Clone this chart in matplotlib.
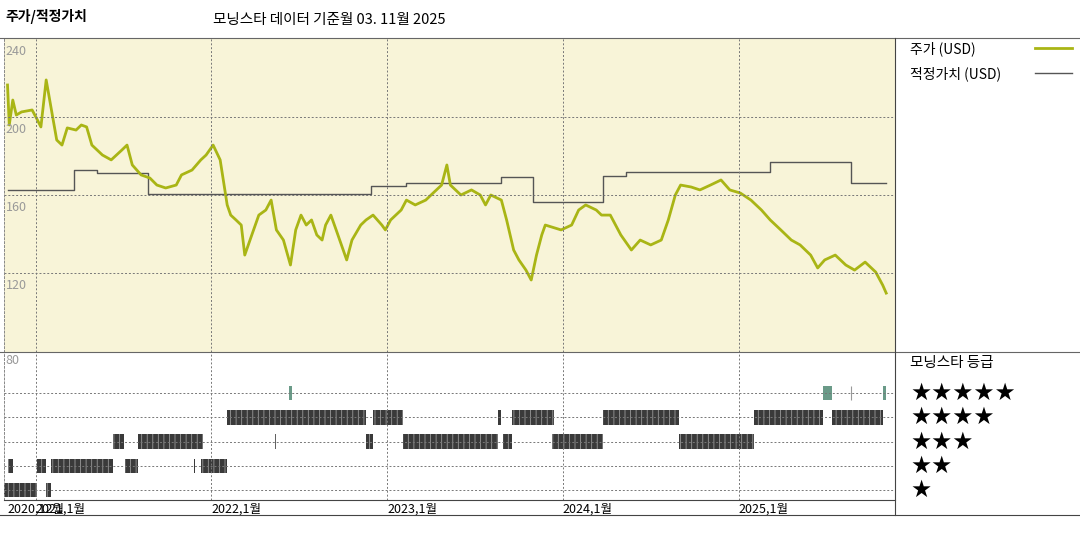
import matplotlib
matplotlib.use("Agg")
import matplotlib.pyplot as plt

plt.rcParams['font.family'] = ['Noto Sans CJK KR', 'DejaVu Sans']
plt.rcParams['hatch.linewidth'] = 0.6

# --- data (decimal years) ---
price_t = [2020.84, 2020.85, 2020.87, 2020.89, 2020.92, 2020.98, 2021.01, 2021.03, 2021.06, 2021.09,
           2021.12, 2021.15, 2021.18, 2021.23, 2021.26, 2021.29, 2021.32, 2021.38, 2021.43, 2021.49,
           2021.52, 2021.55, 2021.60, 2021.65, 2021.69, 2021.74, 2021.80, 2021.83, 2021.89, 2021.94,
           2021.97, 2022.01, 2022.05, 2022.09, 2022.11, 2022.14, 2022.17, 2022.19, 2022.23, 2022.27,
           2022.31, 2022.34, 2022.37, 2022.41, 2022.45, 2022.48, 2022.51, 2022.54, 2022.57, 2022.60,
           2022.63, 2022.65, 2022.68, 2022.71, 2022.74, 2022.77, 2022.80, 2022.85, 2022.88, 2022.92,
           2022.97, 2022.99, 2023.02, 2023.08, 2023.11, 2023.16, 2023.22, 2023.25, 2023.31, 2023.34,
           2023.36, 2023.42, 2023.48, 2023.53, 2023.56, 2023.59, 2023.65, 2023.68, 2023.72, 2023.75,
           2023.79, 2023.82, 2023.85, 2023.88, 2023.90, 2023.99, 2024.05, 2024.09, 2024.13, 2024.19,
           2024.22, 2024.27, 2024.33, 2024.39, 2024.44, 2024.50, 2024.56, 2024.60, 2024.64, 2024.67,
           2024.73, 2024.78, 2024.84, 2024.90, 2024.95, 2025.01, 2025.07, 2025.13, 2025.18, 2025.24,
           2025.30, 2025.35, 2025.41, 2025.45, 2025.49, 2025.55, 2025.61, 2025.66, 2025.72, 2025.78,
           2025.82, 2025.84]
price = [216.4, 195.9, 208.7, 201.0, 202.6, 203.6, 198.5, 194.9, 219.0, 203.6,
         188.2, 185.6, 194.4, 193.3, 195.9, 194.9, 185.6, 180.5, 178.0, 183.0,
         185.6, 175.4, 170.3, 168.7, 165.1, 163.6, 165.1, 170.3, 172.8, 178.0,
         180.5, 185.6, 178.0, 154.9, 149.7, 147.2, 144.6, 129.2, 139.5, 149.7,
         152.3, 157.4, 142.1, 136.9, 124.1, 142.1, 149.7, 144.6, 147.2, 139.5,
         136.9, 144.6, 149.7, 142.1, 134.4, 126.7, 136.9, 144.6, 147.2, 149.7,
         144.6, 142.1, 147.2, 152.3, 157.4, 154.9, 157.4, 160.0, 165.1, 175.4,
         165.1, 160.0, 162.6, 160.0, 154.9, 160.0, 157.4, 147.2, 131.8, 126.7,
         121.5, 116.4, 129.2, 139.5, 144.6, 142.1, 144.6, 152.3, 154.9, 152.3,
         149.7, 149.7, 139.5, 131.8, 136.9, 134.4, 136.9, 147.2, 160.0, 165.1,
         164.1, 162.6, 165.1, 167.7, 162.6, 161.0, 157.4, 152.3, 147.2, 142.1,
         136.9, 134.4, 129.2, 122.6, 126.7, 129.2, 124.1, 121.5, 125.6, 120.5,
         113.8, 109.7]

fair_t = [2020.84, 2021.22, 2021.35, 2021.64, 2022.91, 2023.11, 2023.65, 2023.83, 2024.23, 2024.36,
          2025.18, 2025.64, 2025.84]
fair = [162.6, 172.8, 171.3, 160.5, 164.6, 166.2, 169.2, 156.4, 169.7, 171.8, 177.0, 166.2, 166.2]

# rating periods: (start, end, stars)
rating_periods = [
    (2020.82, 2021.01, 1), (2021.06, 2021.09, 1),
    (2020.84, 2020.87, 2), (2021.01, 2021.06, 2), (2021.09, 2021.44, 2), (2021.51, 2021.58, 2),
    (2021.90, 2021.905, 2), (2021.94, 2022.09, 2),
    (2021.44, 2021.50, 3), (2021.58, 2021.95, 3), (2022.36, 2022.37, 3), (2022.88, 2022.92, 3),
    (2023.09, 2023.63, 3), (2023.66, 2023.71, 3), (2023.94, 2024.23, 3), (2024.66, 2025.09, 3),
    (2022.09, 2022.88, 4), (2022.92, 2023.09, 4), (2023.63, 2023.65, 4), (2023.71, 2023.95, 4),
    (2024.23, 2024.66, 4), (2025.09, 2025.48, 4), (2025.53, 2025.82, 4),
    (2022.44, 2022.46, 5), (2025.48, 2025.53, 5), (2025.82, 2025.84, 5),
]
thin_marks = [(2025.64, 5)]

tick_pos = [2020.84, 2021.0, 2022.0, 2023.0, 2024.0, 2025.0]
tick_lab = ['2020,12월', '2021,1월', '2022,1월', '2023,1월', '2024,1월', '2025,1월']

green = '#a9b515'
xmin, xmax = 2020.82, 2025.89

fig = plt.figure(figsize=(10.8, 5.4), dpi=100)

# price panel
ax = fig.add_axes([4 / 1080, 188 / 540, 891 / 1080, 314 / 540])
ax.set_facecolor('#f8f4d8')
ax.step(fair_t, fair, where='post', color='#555555', lw=1)
ax.plot(price_t, price, color=green, lw=2)
ax.set_xlim(xmin, xmax)
ax.set_ylim(79.5, 240.5)
for v in [200, 160, 120]:
    ax.axhline(v, color='#777777', ls=(0, (2, 2)), lw=0.7)
    ax.text(xmin + 0.01, v - 3, str(v), color='#999999', fontsize=9, va='top')
ax.text(xmin + 0.01, 237, '240', color='#999999', fontsize=9, va='top')
for t in tick_pos[1:]:
    ax.axvline(t, color='#777777', ls=(0, (2, 2)), lw=0.7)
ax.set_xticks([]); ax.set_yticks([])
for s in ax.spines.values():
    s.set_color('#888888'); s.set_linestyle((0, (2, 2))); s.set_linewidth(0.7)

# rating panel
ar = fig.add_axes([4 / 1080, 40 / 540, 891 / 1080, 148 / 540])
ar.set_xlim(xmin, xmax)
ar.set_ylim(0.59, 6.69)
for r in range(1, 6):
    ar.axhline(r, color='#777777', ls=(0, (2, 2)), lw=0.7)
for t in tick_pos[1:]:
    ar.axvline(t, color='#777777', ls=(0, (2, 2)), lw=0.7)
for a, b, s in rating_periods:
    if s == 5:
        ar.broken_barh([(a, max(b - a, 0.006))], (s - 0.3, 0.6), facecolor='#6a9a88', lw=0)
    else:
        ar.broken_barh([(a, max(b - a, 0.006))], (s - 0.3, 0.6), facecolor='#3a3a3a',
                       edgecolor='#9a9a9a', hatch='|||', lw=0)
for t, s in thin_marks:
    ar.vlines(t, s - 0.3, s + 0.3, color='#999999', lw=0.8)
ar.text(xmin + 0.01, 6.6, '80', color='#999999', fontsize=9, va='top')
ar.set_yticks([])
ar.set_xticks(tick_pos)
ar.set_xticklabels(tick_lab, fontsize=9, ha='left')
ar.tick_params(axis='x', length=0, pad=2)
for k in ['top', 'right', 'left']:
    ar.spines[k].set_color('#888888'); ar.spines[k].set_linestyle((0, (2, 2))); ar.spines[k].set_linewidth(0.7)
ar.spines['bottom'].set_color('#444444')

# frame lines and right legend
for y in [38, 352]:
    fig.add_artist(plt.Line2D([0, 1], [1 - y / 540] * 2, color='#666666', lw=0.8))
fig.add_artist(plt.Line2D([0, 1], [1 - 515 / 540] * 2, color='#444444', lw=0.8))
fig.add_artist(plt.Line2D([895 / 1080] * 2, [1 - 515 / 540, 1 - 38 / 540], color='#444444', lw=0.8))

fig.text(5 / 1080, 1 - 17 / 540, '주가/적정가치', fontsize=10, fontweight='bold', va='center')
fig.text(213 / 1080, 1 - 20 / 540, '모닝스타 데이터 기준월 03. 11월 2025', fontsize=10.5, va='center')
fig.text(910 / 1080, 1 - 49 / 540, '주가 (USD)', fontsize=10, va='center')
fig.add_artist(plt.Line2D([1035 / 1080, 1072 / 1080], [1 - 48 / 540] * 2, color=green, lw=2))
fig.text(910 / 1080, 1 - 74 / 540, '적정가치 (USD)', fontsize=10, va='center')
fig.add_artist(plt.Line2D([1035 / 1080, 1072 / 1080], [1 - 73 / 540] * 2, color='#555555', lw=1))
fig.text(910 / 1080, 1 - 363 / 540, '모닝스타 등급', fontsize=10.5, va='center')
for i, s in enumerate([5, 4, 3, 2, 1]):
    fig.text(910 / 1080, 1 - (393 + i * 24.25) / 540, '★' * s, fontsize=17, va='center',
             family=['DejaVu Sans'])

fig.savefig('out.png', dpi=100)
